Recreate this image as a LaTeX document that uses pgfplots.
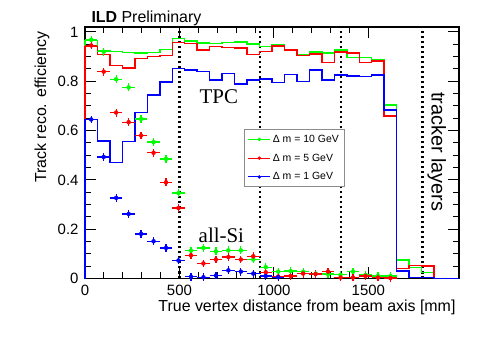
\documentclass[border=0pt]{standalone}
\usepackage{fontspec}
\setmainfont{Liberation Sans}
\newfontfamily\serifA{Liberation Serif}
\usepackage{pgfplots}
\pgfplotsset{compat=1.18}
\usepackage{pgfplotstable}
\definecolor{cG}{HTML}{00FF00}
\definecolor{cR}{HTML}{FF0000}
\definecolor{cB}{HTML}{0000FF}

% TPC histograms: left bin edge, efficiency (last row closes the final bin)
\pgfplotstableread{
x    g      r      b
0    0      0      0
0    0.965  0.940  0.644
66   0.925  0.908  0.557
132  0.920  0.863  0.470
198  0.917  0.853  0.555
264  0.915  0.893  0.674
330  0.917  0.900  0.745
396  0.928  0.904  0.796
462  0.973  0.958  0.852
528  0.963  0.953  0.845
594  0.955  0.927  0.840
660  0.953  0.940  0.806
726  0.958  0.937  0.831
792  0.960  0.934  0.789
858  0.951  0.909  0.806
924  0.940  0.921  0.810
990  0.946  0.943  0.794
1056 0.929  0.927  0.828
1122 0.907  0.905  0.798
1188 0.918  0.911  0.846
1254 0.915  0.876  0.805
1320 0.927  0.918  0.826
1386 0.896  0.915  0.822
1452 0.896  0.877  0.819
1518 0.887  0.883  0.826
1584 0.703  0.660  0.684
1650 0.075  0.040  0.030
1716 0.045  0.053  0.005
1782 0.025  0.050  0.005
1848 0      0      0
1914 0      0      0
1980 0      0      0
}\hist

% all-Si points: bin centre, efficiency
\pgfplotstableread{
x    y
33   0.968
99   0.920
165  0.808
231  0.775
297  0.647
363  0.553
429  0.485
495  0.347
561  0.113
627  0.124
693  0.110
759  0.114
825  0.114
891  0.077
957  0.046
1023 0.028
1089 0.030
1155 0.027
1221 0.020
1287 0.018
1353 0.015
1419 0.028
1485 0.015
1551 0.010
1617 0.010
}\siG
\pgfplotstableread{
x    y
33   0.945
99   0.839
165  0.673
231  0.634
297  0.580
363  0.510
429  0.390
495  0.286
561  0.094
627  0.061
693  0.077
759  0.087
825  0.077
891  0.090
957  0.025
1023 0.008
1089 0.010
1155 0.020
1221 0.018
1287 0.028
1353 0.004
1419 0.004
1485 0.010
1551 0.004
1617 0.002
}\siR
\pgfplotstableread{
x    y
33   0.645
99   0.493
165  0.327
231  0.262
297  0.181
363  0.151
429  0.124
495  0.073
561  0.007
627  0.005
693  0.012
759  0.033
825  0.028
891  0.020
957  0.010
1023 0.005
}\siB

\begin{document}
\begin{tikzpicture}
\begin{axis}[at={(85bp,62.5bp)},anchor=south west,
  width=374bp,height=251.5bp,scale only axis,
  xmin=0,xmax=1980,ymin=0,ymax=1.02,
  axis line style={black,line width=1.2bp},
  tick align=inside,tick style={black,line width=1bp},
  major tick length=11bp,minor tick length=6bp,
  xtick={0,500,1000,1500},minor x tick num=4,
  ytick={0,0.2,0.4,0.6,0.8,1},yticklabels={0,0.2,0.4,0.6,0.8,1},minor y tick num=3,
  /pgf/number format/assume math mode=true,
  /pgf/number format/1000 sep={},
  tick label style={font=\fontsize{15}{17}\selectfont},
  x tick label style={yshift=-3bp},
  y tick label style={xshift=-3bp},
  xlabel={True vertex distance from beam axis [mm]},
  xlabel style={at={(axis description cs:1,-0.132)},anchor=base east,font=\fontsize{16}{18}\selectfont},
  ylabel={Track reco. efficiency},
  ylabel style={at={(axis description cs:-0.104,0.996)},anchor=base east,font=\fontsize{16}{18}\selectfont},
  clip=false,
  legend style={at={(axis description cs:0.425,0.594)},anchor=north west,
    draw=black!45,line width=0.8bp,fill=white,inner sep=3.5bp,row sep=6bp,
    font=\fontsize{10.5}{12}\selectfont},
  legend cell align=left,
  legend image code/.code={\draw[#1,line width=1bp] (0bp,0bp) -- (22bp,0bp);
    \fill[#1] (11bp,0bp) circle (1.3bp);},
]
% detector boundaries
\addplot[forget plot,black,line width=2.6bp,dash pattern=on 2.4bp off 2.6bp] coordinates {(500,0) (500,1.02)};
\addplot[forget plot,black,line width=2.6bp,dash pattern=on 2.4bp off 2.6bp] coordinates {(927,0) (927,1.02)};
\addplot[forget plot,black,line width=2.6bp,dash pattern=on 2.4bp off 2.6bp] coordinates {(1355,0) (1355,1.02)};
\addplot[forget plot,black,line width=2.6bp,dash pattern=on 2.4bp off 2.6bp] coordinates {(1787,0) (1787,1.02)};

% TPC histograms
\addplot[forget plot,cG,line width=1.5bp,const plot mark left] table[x=x,y=g] {\hist};
\addplot[forget plot,cR,line width=1.5bp,const plot mark left] table[x=x,y=r] {\hist};
\addplot[forget plot,cB,line width=1.5bp,const plot mark left] table[x=x,y=b] {\hist};

% all-Si points
\addplot[forget plot,cG,only marks,mark=none,
  error bars/.cd,x dir=both,x fixed=33,y dir=both,y fixed=0.016,
  error mark=none,error bar style={line width=1.3bp,cG}] table[x=x,y=y] {\siG};
\addplot[forget plot,cR,only marks,mark=none,
  error bars/.cd,x dir=both,x fixed=33,y dir=both,y fixed=0.016,
  error mark=none,error bar style={line width=1.3bp,cR}] table[x=x,y=y] {\siR};
\addplot[forget plot,cB,only marks,mark=none,
  error bars/.cd,x dir=both,x fixed=33,y dir=both,y fixed=0.016,
  error mark=none,error bar style={line width=1.3bp,cB}] table[x=x,y=y] {\siB};

\addlegendimage{cG}\addlegendentry{Δ m = 10 GeV\hspace{26bp}}
\addlegendimage{cR}\addlegendentry{Δ m = 5 GeV}
\addlegendimage{cB}\addlegendentry{Δ m = 1 GeV}

\node[anchor=base west,font=\fontsize{16}{18}\selectfont] at (axis description cs:0.008,1.017) {\textbf{ILD} Preliminary};
\node[anchor=base west,inner sep=0pt,font=\serifA\fontsize{21}{24}\selectfont] at (axis cs:606,0.708) {TPC};
\node[anchor=base west,inner sep=0pt,font=\serifA\fontsize{21}{24}\selectfont] at (axis cs:601,0.148) {all-Si};
\node[anchor=base west,inner sep=0pt,rotate=-90,font=\fontsize{20}{22}\selectfont] at (axis cs:1835,0.757) {tracker layers};
\end{axis}
\pgfresetboundingbox
\path[use as bounding box] (0,0) rectangle (499bp,341bp);
\end{tikzpicture}
\end{document}
